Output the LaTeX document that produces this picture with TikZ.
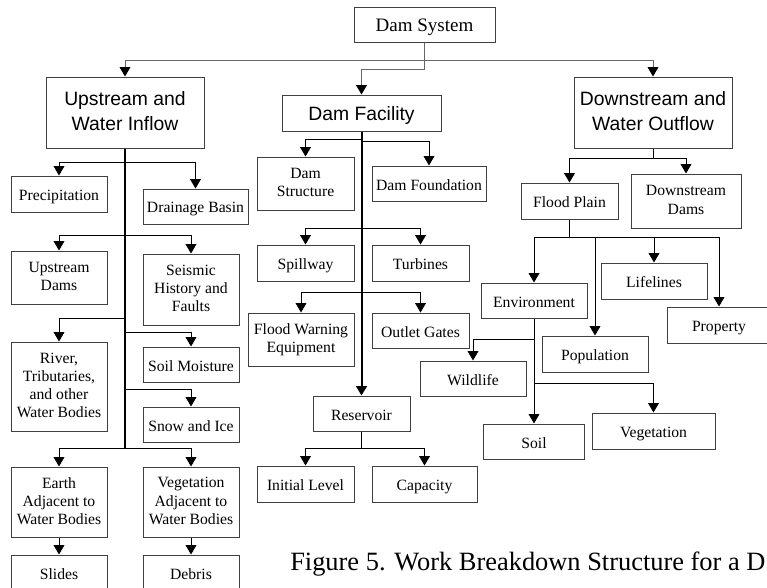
\documentclass[tikz,border=0pt]{standalone}
\usepackage{fontspec}
\setmainfont{Liberation Serif}
\newfontfamily\arialfont{Liberation Sans}
\usetikzlibrary{arrows.meta}
\newcommand\wbstop{\rule{0pt}{1em}}
\newcommand\wbsbot{\rule[-0.15em]{0pt}{0.15em}}
\tikzset{
  box/.style={draw=black!75, line width=0.75pt, inner sep=1pt, align=center,
    font=\fontsize{11.75}{13.6}\selectfont,
    execute at begin node=\wbstop, execute at end node=\wbsbot},
  bigbox/.style={box, font=\arialfont\fontsize{14.5}{18.75}\selectfont},
  wh/.style 2 args={minimum width=#1*0.75pt, minimum height=#2*0.75pt},
  link/.style={line width=0.75pt, -{Triangle[width=8pt,length=7pt,color=black]}},
  stem/.style={line width=0.75pt},
  trunk/.style={line width=1.5pt},
}
\begin{document}
\begin{tikzpicture}[x=0.75pt, y=-0.75pt]
\useasboundingbox (0,0) rectangle (767,587);
% top level
\node[box, wh={141}{35}, font=\fontsize{14.25}{16}\selectfont] (sys) at (424.5,24.5) {Dam System};
\node[bigbox, wh={158}{71}] (up) at (125,112.5) {Upstream and\\Water Inflow};
\node[bigbox, wh={159}{36}] (fac) at (361.5,113) {Dam Facility};
\node[bigbox, wh={158}{71}] (down) at (653,112.5) {Downstream and\\Water Outflow};
\coordinate (t1) at (424.5,60);
\coordinate (t2) at (424.5,69);
\draw[stem, black!60] (sys) -- (t2);
\draw[link, black!60] (t2) -| (fac);
\draw[link, black!60] (t1) -| (up);
\draw[link, black!60] (t1) -| (down);

% upstream and water inflow
\node[box, wh={96}{36}] (prec) at (59,194) {Precipitation};
\node[box, wh={105}{35}] (drain) at (195.5,206.5) {Drainage Basin};
\node[box, wh={96}{53}] (updams) at (59,277.5) {Upstream\\Dams};
\node[box, wh={96}{71}] (seis) at (191,289.5) {Seismic\\History and\\Faults};
\node[box, wh={96}{89}] (river) at (59,386.5) {River,\\Tributaries,\\and other\\Water Bodies};
\node[box, wh={96}{35}] (moist) at (191,364.5) {Soil Moisture};
\node[box, wh={96}{35}] (snow) at (191,424.5) {Snow and Ice};
\node[box, wh={96}{70}] (earth) at (59,502) {Earth\\Adjacent to\\Water Bodies};
\node[box, wh={96}{70}] (vegadj) at (191,502) {Vegetation\\Adjacent to\\Water Bodies};
\node[box, wh={96}{35}] (slides) at (59,572.5) {Slides};
\node[box, wh={96}{35}] (debris) at (191,572.5) {Debris};
\coordinate (u1) at (125,162);
\coordinate (u2) at (125,235);
\coordinate (u3) at (125,318);
\coordinate (u4) at (125,332);
\coordinate (u5) at (125,389);
\coordinate (u6) at (125,448);
\draw[trunk] (up) -- (u6);
\draw[link] (u1) -| (prec);
\draw[link] (u1) -| (drain);
\draw[link] (u2) -| (updams);
\draw[link] (u2) -| (seis);
\draw[link] (u3) -| (river);
\draw[link] (u4) -| (moist);
\draw[link] (u5) -| (snow);
\draw[link] (u6) -| (earth);
\draw[link] (u6) -| (vegadj);
\draw[link] (earth) -- (slides);
\draw[link] (vegadj) -- (debris);

% dam facility
\node[box, wh={97}{53}] (damstr) at (305.5,183.5) {Dam\\Structure};
\node[box, wh={114}{35}] (found) at (429,183.5) {Dam Foundation};
\node[box, wh={97}{36}] (spill) at (305.5,263) {Spillway};
\node[box, wh={97}{36}] (turb) at (420.5,263) {Turbines};
\node[box, wh={106}{53}] (warn) at (301,339.5) {Flood Warning\\Equipment};
\node[box, wh={97}{35}] (outlet) at (420.5,330.5) {Outlet Gates};
\node[box, wh={97}{35}] (res) at (361.5,413.5) {Reservoir};
\node[box, wh={97}{36}] (init) at (305.5,484) {Initial Level};
\node[box, wh={105}{36}] (cap) at (424.5,484) {Capacity};
\coordinate (f1) at (361.5,139);
\coordinate (f2) at (361.5,141);
\coordinate (f3) at (361.5,228);
\coordinate (f4) at (361.5,292);
\coordinate (r1) at (361.5,448);
\draw[trunk, -{Triangle[width=8pt,length=7pt]}] (fac) -- (res);
\draw[link] (f1) -| (damstr);
\draw[link] (f2) -| (found);
\draw[link] (f3) -| (spill);
\draw[link] (f3) -| (turb);
\draw[link] (f4) -| (warn);
\draw[link] (f4) -| (outlet);
\draw[stem] (res) -- (r1);
\draw[link] (r1) -| (init);
\draw[link] (r1) -| (cap);

% downstream and water outflow
\node[box, wh={97}{36}] (plain) at (569.5,201) {Flood Plain};
\node[box, wh={110}{54}] (ddams) at (686,201) {Downstream\\Dams};
\node[box, wh={106}{35}] (env) at (534,300.5) {Environment};
\node[box, wh={106}{36}] (life) at (654,281) {Lifelines};
\node[box, wh={104}{36}] (prop) at (719,325) {Property};
\node[box, wh={106}{36}] (pop) at (595,354) {Population};
\node[box, wh={106}{35}] (wild) at (473,378.5) {Wildlife};
\node[box, wh={123}{36}] (veg) at (653.5,431) {Vegetation};
\node[box, wh={101}{35}] (soil) at (534,441.5) {Soil};
\coordinate (d1) at (653,158);
\coordinate (p1) at (569.5,237);
\coordinate (e1) at (534,339);
\coordinate (e2) at (534,383);
\draw[stem] (down) -- (d1);
\draw[link] (d1) -| (plain);
\draw[link] (d1) -| (ddams);
\draw[stem] (plain) -- (p1);
\draw[link] (p1) -| (env);
\draw[link] (p1) -| (pop);
\draw[link] (p1) -| (life);
\draw[link] (p1) -| (prop);
\draw[link] (env) -- (soil);
\draw[link] (e1) -| (wild);
\draw[link] (e2) -| (veg);

% caption
\node[anchor=base west, inner sep=0pt, font=\fontsize{19.8}{24}\selectfont] (fig) at (290,570)
  {Figure 5. Work Breakdown Structure for a D};
\end{tikzpicture}
\end{document}
